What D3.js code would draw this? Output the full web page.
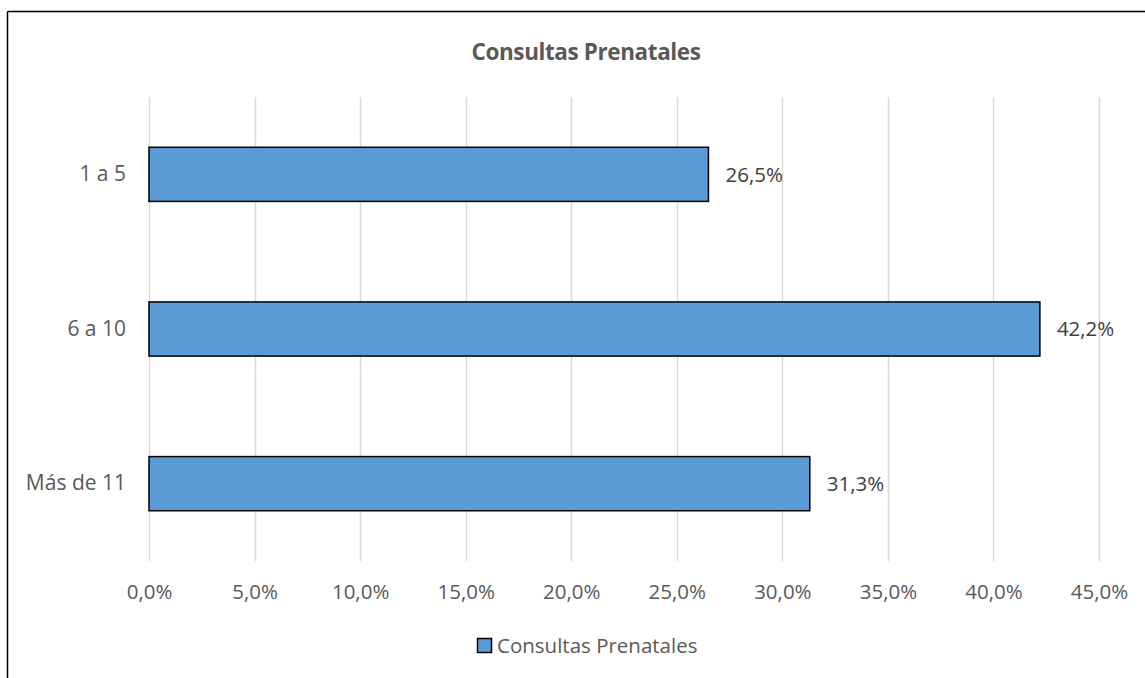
<!DOCTYPE html>
<html><head><meta charset="utf-8">
<script src="https://cdn.jsdelivr.net/npm/d3@7"></script>
<style>html,body{margin:0;padding:0;background:#fff;}svg{display:block;}</style>
</head><body>
<script>
const categories = ["1 a 5", "6 a 10", "Más de 11"];
const values = [26.5, 42.2, 31.3];
const tickValues = [0, 5, 10, 15, 20, 25, 30, 35, 40, 45];
const title = "Consultas Prenatales";
const seriesName = "Consultas Prenatales";

(function () {
const W = 1145, H = 678;
const font = "'Open Sans', sans-serif";
const fs = 20.5;
const svg = d3.select("body").append("svg").attr("width", W).attr("height", H);
svg.append("rect").attr("width", W).attr("height", H).attr("fill", "#fff");

// outer border (top and left visible)
svg.append("line").attr("x1", 7.5).attr("x2", W).attr("y1", 11.5).attr("y2", 11.5).attr("stroke", "#000").attr("stroke-width", 1.5);
svg.append("line").attr("x1", 7.5).attr("x2", 7.5).attr("y1", 11.5).attr("y2", H).attr("stroke", "#000").attr("stroke-width", 1.5);

const pLeft = 149, pRight = 1099, pTop = 97, pBottom = 561;
const x = d3.scaleLinear().domain([0, 45]).range([pLeft, pRight]);
const y = d3.scaleBand().domain(categories).range([pTop, pBottom]).paddingInner(0.65).paddingOuter(0.325);

// gridlines
svg.append("g").selectAll("line").data(tickValues).join("line")
  .attr("x1", d => Math.round(x(d)) + 0.5).attr("x2", d => Math.round(x(d)) + 0.5)
  .attr("y1", pTop).attr("y2", pBottom)
  .attr("stroke", "#d9d9d9").attr("stroke-width", 1.5);

// x axis labels
const xAxis = d3.axisBottom(x).tickValues(tickValues).tickSize(0).tickPadding(0)
  .tickFormat(d => d.toFixed(1).replace(".", ",") + "%");
const gx = svg.append("g").attr("transform", `translate(0,${pBottom})`).call(xAxis);
gx.select(".domain").remove();
gx.selectAll("text").attr("dy", "0.35em").attr("y", 31).attr("font-family", font).attr("font-size", fs).attr("fill", "#595959");

// y axis labels
const yAxis = d3.axisLeft(y).tickSize(0).tickPadding(0);
const gy = svg.append("g").attr("transform", `translate(${pLeft - 23},0)`).call(yAxis);
gy.select(".domain").remove();
gy.selectAll("text").attr("font-family", font).attr("font-size", 21).attr("fill", "#595959");

// bars
svg.append("g").selectAll("rect").data(values).join("rect")
  .attr("x", x(0)).attr("y", (d, i) => y(categories[i]))
  .attr("width", d => x(d) - x(0)).attr("height", y.bandwidth())
  .attr("fill", "#5b9bd5").attr("stroke", "#000").attr("stroke-width", 1.5);

// data labels
svg.append("g").selectAll("text").data(values).join("text")
  .attr("x", d => x(d) + 17).attr("y", (d, i) => y(categories[i]) + y.bandwidth() / 2)
  .attr("dy", "0.35em")
  .attr("font-family", font).attr("font-size", fs).attr("fill", "#404040")
  .text(d => d.toFixed(1).replace(".", ",") + "%");

// title
svg.append("text").attr("x", 586).attr("y", 60).attr("text-anchor", "middle")
  .attr("font-family", font).attr("font-weight", "bold").attr("font-size", 22.5).attr("fill", "#595959")
  .attr("letter-spacing", "-0.4")
  .text(title);

// legend
const lg = svg.append("g").attr("transform", "translate(477,646)");
lg.append("rect").attr("x", 0.5).attr("y", -7.5).attr("width", 14).attr("height", 14)
  .attr("fill", "#5b9bd5").attr("stroke", "#000").attr("stroke-width", 1.5);
lg.append("text").attr("x", 20).attr("y", 0).attr("dy", "0.35em")
  .attr("font-family", font).attr("font-size", fs).attr("fill", "#595959").text(seriesName);
})();
</script>
</body></html>
